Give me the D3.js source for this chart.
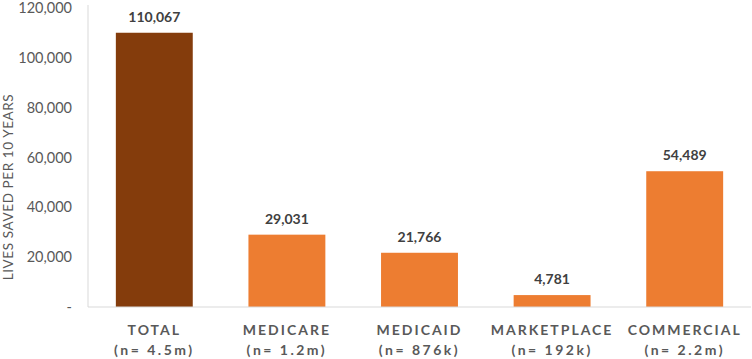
<!DOCTYPE html>
<html>
<head>
<meta charset="utf-8">
<script src="https://d3js.org/d3.v7.min.js"></script>
<style>
  body { margin: 0; background: #fff; }
  text { font-family: Lato, "Open Sans", sans-serif; }
</style>
</head>
<body>
<div id="chart"></div>
<script>
// chart data
var categories = ["TOTAL", "MEDICARE", "MEDICAID", "MARKETPLACE", "COMMERCIAL"];
var sampleSizes = ["(n= 4.5m)", "(n= 1.2m)", "(n= 876k)", "(n= 192k)", "(n= 2.2m)"];
var livesSaved = [110067, 29031, 21766, 4781, 54489];
var yTicks = [0, 20000, 40000, 60000, 80000, 100000, 120000];

var W = 752, H = 359;
var margin = {top: 8, right: 1, bottom: 52, left: 88};
var width = W - margin.left - margin.right,
    height = H - margin.top - margin.bottom;

var svg = d3.select("#chart").append("svg")
    .attr("width", W)
    .attr("height", H)
  .append("g")
    .attr("transform", "translate(" + margin.left + "," + margin.top + ")");

var x = d3.scaleBand().domain(categories).range([0, width]).paddingInner(0.42).paddingOuter(0.21);
var y = d3.scaleLinear().domain([0, 120000]).range([height, 0]);

var fmt = d3.format(",");

// y axis line
svg.append("line")
    .attr("x1", 0).attr("x2", 0)
    .attr("y1", -3).attr("y2", height)
    .attr("stroke", "#d9d9d9");

// y tick labels
svg.selectAll(".ytick")
    .data(yTicks)
    .enter().append("text")
    .attr("class", "ytick")
    .attr("x", -16)
    .attr("y", function(d) { return y(d); })
    .attr("dy", "0.35em")
    .attr("text-anchor", "end")
    .attr("font-size", 14.5)
    .attr("fill", "#595959")
    .text(function(d) { return d === 0 ? "-" : fmt(d); });

// y axis title (sits a bit below the plot's middle, like the original)
svg.append("text")
    .attr("transform", "rotate(-90)")
    .attr("x", -179)
    .attr("y", -margin.left + 13)
    .attr("text-anchor", "middle")
    .attr("font-size", 13.5)
    .attr("letter-spacing", "0.6px")
    .attr("fill", "#595959")
    .text("LIVES SAVED PER 10 YEARS");

// bars
svg.selectAll(".bar")
    .data(livesSaved)
    .enter().append("rect")
    .attr("class", "bar")
    .attr("x", function(d, i) { return x(categories[i]); })
    .attr("width", x.bandwidth())
    .attr("y", function(d) { return y(d); })
    .attr("height", function(d) { return height - y(d); })
    .attr("fill", function(d, i) { return i === 0 ? "#843c0c" : "#ed7d31"; });

// baseline
svg.append("line")
    .attr("x1", 0).attr("x2", width)
    .attr("y1", height).attr("y2", height)
    .attr("stroke", "#d9d9d9");

// value labels
svg.selectAll(".val")
    .data(livesSaved)
    .enter().append("text")
    .attr("class", "val")
    .attr("x", function(d, i) { return x(categories[i]) + x.bandwidth() / 2; })
    .attr("y", function(d) { return y(d) - 11; })
    .attr("text-anchor", "middle")
    .attr("font-size", 14)
    .attr("font-weight", "bold")
    .attr("fill", "#404040")
    .text(function(d) { return fmt(d); });

// category labels
svg.selectAll(".cat")
    .data(categories)
    .enter().append("text")
    .attr("class", "cat")
    .attr("x", function(d) { return x(d) + x.bandwidth() / 2; })
    .attr("y", height + 28)
    .attr("text-anchor", "middle")
    .attr("font-size", 14)
    .attr("font-weight", "bold")
    .attr("letter-spacing", "2px")
    .attr("fill", "#595959")
    .text(function(d) { return d; });

svg.selectAll(".n")
    .data(sampleSizes)
    .enter().append("text")
    .attr("class", "n")
    .attr("x", function(d, i) { return x(categories[i]) + x.bandwidth() / 2; })
    .attr("y", height + 48)
    .attr("text-anchor", "middle")
    .attr("font-size", 14)
    .attr("font-weight", "bold")
    .attr("letter-spacing", "2.5px")
    .attr("fill", "#595959")
    .text(function(d) { return d; });
</script>
</body>
</html>
